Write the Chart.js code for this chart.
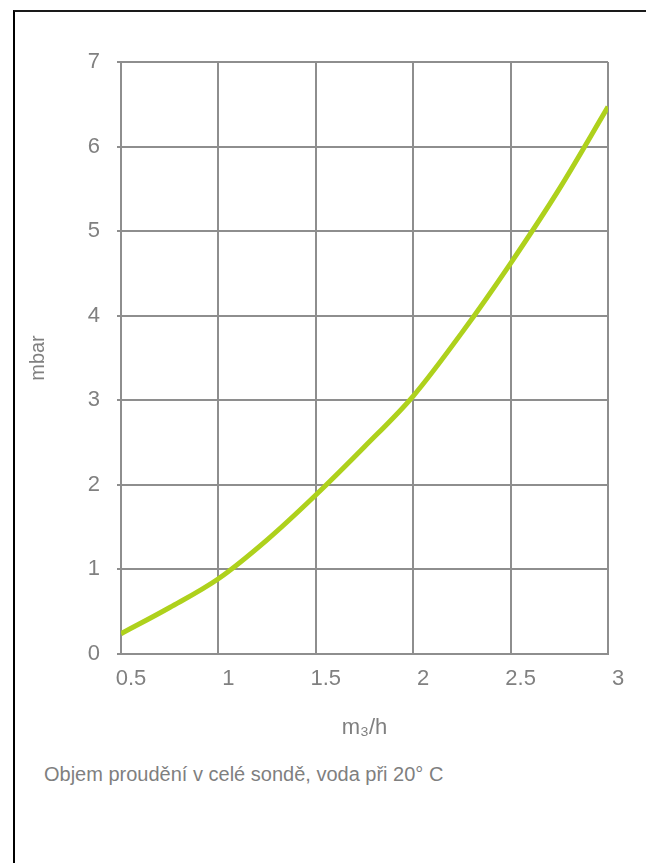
<!DOCTYPE html>
<html lang="cs">
<head>
<meta charset="utf-8">
<title>Tlaková ztráta sondy</title>
<script src="https://cdn.jsdelivr.net/npm/chart.js@4/dist/chart.umd.min.js"></script>
<style>
    html, body { margin: 0; padding: 0; background: #fff; }
    .frame {
        position: absolute; left: 13px; top: 10px; right: 0; bottom: 0;
        border-left: 2px solid #000; border-top: 2px solid #1a1a1a;
    }
    #flow-chart { position: absolute; left: 0; top: 0; }
    .caption {
        position: absolute; left: 44px; top: 764px;
        font: 20px/20px "Liberation Sans", Arial, sans-serif; color: #7f7f7f;
        white-space: nowrap;
    }
</style>
</head>
<body>
<div class="frame"></div>
<canvas id="flow-chart" width="646" height="760"></canvas>
<div class="caption">Objem proudění v celé sondě, voda při 20° C</div>

<script>
(function () {
    "use strict";

    // Data
    var flowRates = [0.5, 0.75, 1, 1.25, 1.5, 1.75, 2, 2.25, 2.5, 2.75, 3];           // m3/h
    var pressureDrop = [0.24, 0.55, 0.89, 1.35, 1.88, 2.45, 3.05, 3.8, 4.62, 5.5, 6.47]; // mbar
    var xTickLabels = ["0.5", "1", "1.5", "2", "2.5", "3"];
    var yTickLabels = ["0", "1", "2", "3", "4", "5", "6", "7"];

    var textGrey = "#808080";
    var gridGrey = "#8e8e8e";
    var family = "'Liberation Sans', Arial, sans-serif";
    var tickFont = { family: family, size: 22 };

    var points = flowRates.map(function (q, i) {
        return { x: q, y: pressureDrop[i] };
    });

    var canvas = document.getElementById("flow-chart");
    if (!canvas) {
        console.warn("Canvas 'flow-chart' not found, skipping chart.");
        return;
    }

    new Chart(canvas.getContext("2d"), {
        type: "line",
        data: {
            datasets: [{
                data: points,
                borderColor: "#aed11c",
                borderWidth: 5,
                pointRadius: 0,
                cubicInterpolationMode: "monotone",
                fill: false
            }]
        },
        options: {
            responsive: false,
            animation: false,
            layout: { padding: { top: 62, right: 38, left: 0, bottom: 0 } },
            plugins: {
                legend: { display: false },
                tooltip: { enabled: false }
            },
            scales: {
                x: {
                    type: "linear",
                    min: 0.5,
                    max: 3,
                    afterFit: function (scale) { scale.height = 106; },
                    ticks: {
                        stepSize: 0.5,
                        padding: 12,
                        labelOffset: 10,
                        color: textGrey,
                        font: tickFont,
                        callback: function (value, index) { return xTickLabels[index]; }
                    },
                    grid: { color: gridGrey, lineWidth: 2, drawTicks: false },
                    border: { color: gridGrey, width: 2 },
                    title: {
                        display: true,
                        text: "m\u2083/h",
                        color: textGrey,
                        font: { family: family, size: 22 },
                        padding: { top: 0, bottom: 19 }
                    }
                },
                y: {
                    min: 0,
                    max: 7,
                    afterFit: function (scale) { scale.width = 121; },
                    ticks: {
                        stepSize: 1,
                        padding: 17,
                        color: textGrey,
                        font: tickFont,
                        callback: function (value, index) { return yTickLabels[index]; }
                    },
                    grid: { color: gridGrey, lineWidth: 2, tickLength: 4 },
                    border: { color: gridGrey, width: 2 },
                    title: {
                        display: true,
                        text: "mbar",
                        color: textGrey,
                        font: { family: family, size: 20 },
                        padding: { top: 26, bottom: 0 }
                    }
                }
            }
        }
    });
})();
</script>
</body>
</html>
